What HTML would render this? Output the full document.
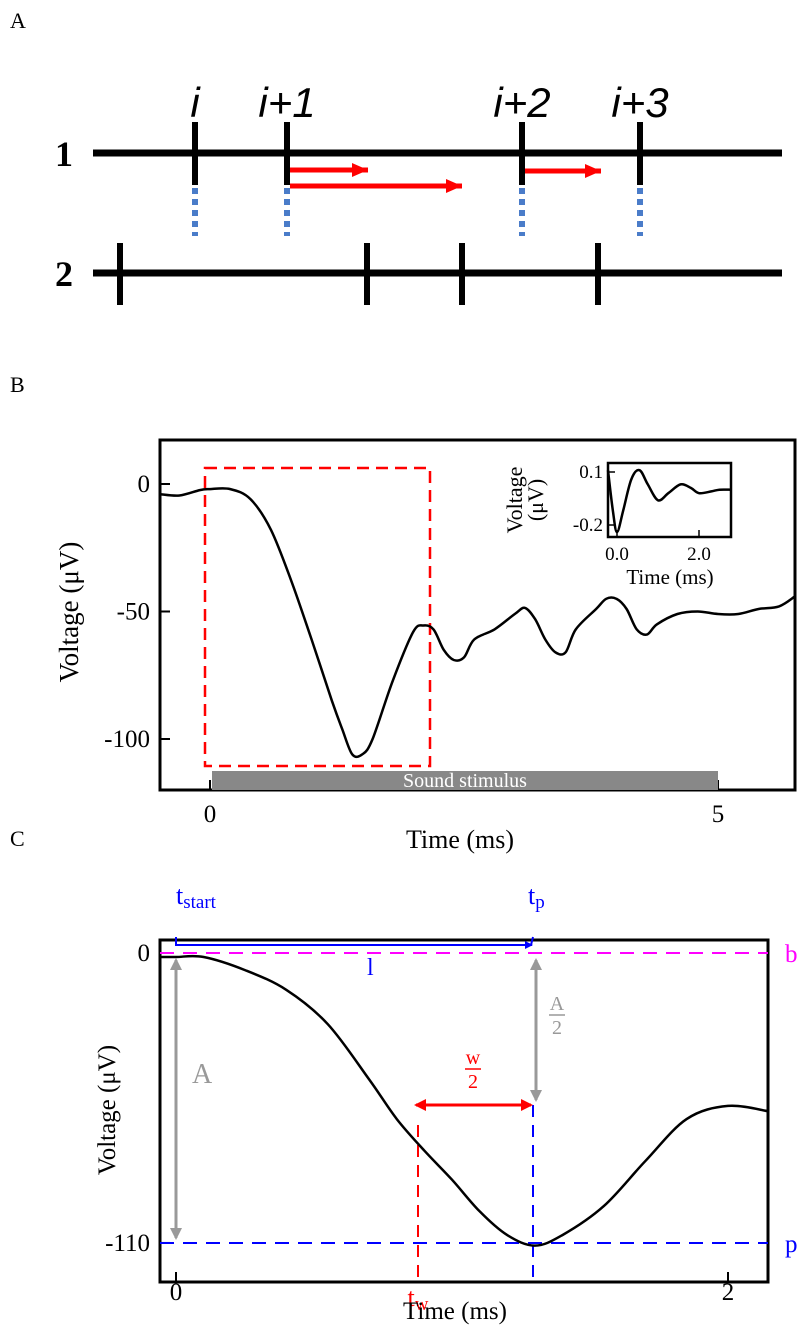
<!DOCTYPE html>
<html><head><meta charset="utf-8"><style>
body{margin:0;background:#fff}
svg text{font-family:"Liberation Serif",serif}
</style></head><body>
<svg width="800" height="1327" xmlns="http://www.w3.org/2000/svg">
<defs>
<marker id="ab" markerWidth="8" markerHeight="8" refX="7" refY="4" orient="auto" markerUnits="userSpaceOnUse"><path d="M0,0L8,4L0,8z" fill="blue"/></marker>
<marker id="ag" markerWidth="12" markerHeight="12" refX="10" refY="6" orient="auto-start-reverse" markerUnits="userSpaceOnUse"><path d="M0,0L12,6L0,12z" fill="#999"/></marker>
<marker id="ar2" markerWidth="12" markerHeight="12" refX="10" refY="6" orient="auto-start-reverse" markerUnits="userSpaceOnUse"><path d="M0,0L12,6L0,12z" fill="red"/></marker>
<marker id="ar3" markerWidth="16" markerHeight="14" refX="16" refY="7" orient="auto" markerUnits="userSpaceOnUse"><path d="M0,0L16,7L0,14z" fill="red"/></marker>
</defs>
<!-- Panel A -->
<g>
<text x="10" y="28" font-size="22">A</text>
<text x="55" y="166" font-size="36" font-weight="bold">1</text>
<text x="55" y="286" font-size="36" font-weight="bold">2</text>
<line x1="93" y1="153" x2="782" y2="153" stroke="#000" stroke-width="7"/>
<line x1="93" y1="273" x2="782" y2="273" stroke="#000" stroke-width="7"/>
<g id="spk"></g>
<g font-style="italic" font-size="42" text-anchor="middle">
<text x="195" y="117" style="font-family:'Liberation Sans',sans-serif">i</text>
<text x="287" y="117" style="font-family:'Liberation Sans',sans-serif">i+1</text>
<text x="522" y="117" style="font-family:'Liberation Sans',sans-serif">i+2</text>
<text x="640" y="117" style="font-family:'Liberation Sans',sans-serif">i+3</text>
</g>
<line x1="290" y1="170" x2="368" y2="170" stroke="red" stroke-width="5" marker-end="url(#ar3)"/>
<line x1="290" y1="186" x2="462" y2="186" stroke="red" stroke-width="5" marker-end="url(#ar3)"/>
<line x1="525" y1="171" x2="601" y2="171" stroke="red" stroke-width="5" marker-end="url(#ar3)"/>
</g>
<!-- Panel B -->
<g>
<text x="10" y="392" font-size="22">B</text>
<rect x="160" y="440" width="635" height="350" fill="none" stroke="#000" stroke-width="3"/>
<g id="bTicks"></g>
<rect x="205" y="468" width="225" height="298" fill="none" stroke="red" stroke-width="2.5" stroke-dasharray="12,7"/>
<rect x="212" y="771" width="506" height="19" fill="#888"/>
<text x="465" y="787" font-size="20" fill="#fff" text-anchor="middle">Sound stimulus</text>
<path id="bLine" fill="none" stroke="#000" stroke-width="2.5"/>
<text x="460" y="848" font-size="26" text-anchor="middle">Time (ms)</text>
<text transform="translate(78,612) rotate(-90)" font-size="27" text-anchor="middle">Voltage (μV)</text>
<rect x="608" y="463" width="123" height="74" fill="none" stroke="#000" stroke-width="2.5"/>
<g id="iTicks"></g>
<path id="iLine" fill="none" stroke="#000" stroke-width="2.5"/>
<text x="670" y="584" font-size="21" text-anchor="middle">Time (ms)</text>
<text transform="translate(522,500) rotate(-90)" font-size="22" text-anchor="middle">Voltage</text>
<text transform="translate(543,500) rotate(-90)" font-size="22" text-anchor="middle">(μV)</text>
</g>
<!-- Panel C -->
<g>
<text x="10" y="846" font-size="22">C</text>
<rect x="160" y="940" width="608" height="342" fill="none" stroke="#000" stroke-width="3"/>
<g id="cTicks"></g>
<line x1="160" y1="953" x2="768" y2="953" stroke="#f0f" stroke-width="2" stroke-dasharray="14,9"/>
<text x="785" y="962" font-size="25" fill="#f0f">b</text>
<line x1="160" y1="1243" x2="768" y2="1243" stroke="blue" stroke-width="2" stroke-dasharray="14,9"/>
<text x="785" y="1252" font-size="25" fill="blue">p</text>
<line x1="533" y1="1105" x2="533" y2="1282" stroke="blue" stroke-width="2" stroke-dasharray="12,8"/>
<line x1="418" y1="1125" x2="418" y2="1282" stroke="red" stroke-width="2" stroke-dasharray="12,8"/>
<polyline points="176,937 176,945 531,945 533,937" fill="none" stroke="blue" stroke-width="2"/>
<line x1="176" y1="945" x2="532" y2="945" stroke="blue" stroke-width="2" marker-end="url(#ab)"/>
<text x="176" y="904" font-size="26" fill="blue">t<tspan font-size="19" dy="4">start</tspan></text>
<text x="528" y="904" font-size="26" fill="blue">t<tspan font-size="19" dy="4">p</tspan></text>
<text x="367" y="975" font-size="24" fill="blue">l</text>
<line x1="176" y1="960" x2="176" y2="1238" stroke="#999" stroke-width="3" marker-start="url(#ag)" marker-end="url(#ag)"/>
<text x="192" y="1083" font-size="28" fill="#999">A</text>
<line x1="536" y1="960" x2="536" y2="1100" stroke="#999" stroke-width="3" marker-start="url(#ag)" marker-end="url(#ag)"/>
<g fill="#999" font-size="20" text-anchor="middle"><text x="557" y="1010">A</text><line x1="549" y1="1015" x2="565" y2="1015" stroke="#999" stroke-width="1.5"/><text x="557" y="1034">2</text></g>
<line x1="416" y1="1105" x2="531" y2="1105" stroke="red" stroke-width="3" marker-start="url(#ar2)" marker-end="url(#ar2)"/>
<g fill="red" font-size="20" text-anchor="middle"><text x="473" y="1064">w</text><line x1="465" y1="1069" x2="481" y2="1069" stroke="red" stroke-width="1.5"/><text x="473" y="1088">2</text></g>
<path id="cLine" fill="none" stroke="#000" stroke-width="2.5"/>
<text x="418" y="1306" font-size="26" fill="red" text-anchor="middle">t<tspan font-size="19" dy="4">w</tspan></text>
<text x="455" y="1319" font-size="25" text-anchor="middle">Time (ms)</text>
<text transform="translate(115,1110) rotate(-90)" font-size="25" text-anchor="middle">Voltage (μV)</text>
</g>
</svg>
<script>
const train1Spikes=[195,287,522,640];
const train2Spikes=[120,367,462,598];
const bTime=[-0.49,-0.3,-0.1,0,0.2,0.4,0.6,0.8,1.0,1.2,1.3,1.4,1.5,1.6,1.8,2.0,2.1,2.2,2.3,2.4,2.5,2.6,2.8,3.0,3.1,3.2,3.3,3.4,3.5,3.6,3.8,3.9,4.0,4.1,4.2,4.3,4.4,4.6,4.8,5.0,5.2,5.4,5.6,5.76];
const bVolt=[-4,-4.5,-2.4,-2,-2,-6,-18,-38,-61,-85,-96,-106,-106,-100,-77,-58,-55.5,-57,-65,-69,-68,-61,-57,-51,-48.6,-53,-61,-66,-66,-57,-49,-45,-45,-49,-57,-59,-55,-51,-50,-51,-51,-49,-48,-44];
const bXTicks=[0,5];
const bYTicks=[0,-50,-100];
const iTime=[-0.22,-0.1,0,0.15,0.35,0.55,0.75,1.0,1.25,1.55,1.8,2.0,2.3,2.5,2.78];
const iVolt=[0.11,-0.12,-0.24,-0.12,0.06,0.11,0.03,-0.06,-0.02,0.03,0.01,-0.02,-0.01,0.0,0.0];
const iXTicks=[0,2];
const iXLabels=["0.0","2.0"];
const iYTicks=[0.1,-0.2];
const cTime=[-0.058,0,0.1,0.25,0.4,0.55,0.7,0.8,0.9,1.0,1.1,1.2,1.3,1.4,1.55,1.7,1.85,2.0,2.145];
const cVolt=[-1.5,-1.5,-1.5,-6.5,-14,-27,-48,-63,-75,-86,-98,-107,-111,-107,-96,-79,-63,-58,-60];
const cXTicks=[0,2];
const cYTicks=[0,-110];

const NS="http://www.w3.org/2000/svg";
function mk(parent,tag,attrs,txt){const e=document.createElementNS(NS,tag);for(const k in attrs)e.setAttribute(k,attrs[k]);if(txt!=null)e.textContent=txt;document.querySelector(parent).appendChild(e);return e;}
const spk='#spk';
train1Spikes.forEach(x=>{
 const l=mk(spk,'line',{x1:x,y1:122,x2:x,y2:185,stroke:'#000','stroke-width':6});
 
 
 const d=mk(spk,'line',{x1:x,y1:188,x2:x,y2:236,stroke:'#4a7cc9','stroke-width':6,'stroke-dasharray':'6,5'});
 
 
});
train2Spikes.forEach(x=>{
 const l=mk(spk,'line',{x1:x,y1:243,x2:x,y2:305,stroke:'#000','stroke-width':6});
 
 
});
function line(id,xs,ys,fx,fy){
 const P=xs.map((t,i)=>[fx(t),fy(ys[i])]);
 let d='M'+P[0][0].toFixed(1)+','+P[0][1].toFixed(1);
 for(let i=0;i<P.length-1;i++){
  const p0=P[Math.max(i-1,0)],p1=P[i],p2=P[i+1],p3=P[Math.min(i+2,P.length-1)];
  const c1=[p1[0]+(p2[0]-p0[0])/6,p1[1]+(p2[1]-p0[1])/6];
  const c2=[p2[0]-(p3[0]-p1[0])/6,p2[1]-(p3[1]-p1[1])/6];
  d+='C'+c1.map(v=>v.toFixed(1)).join(',')+' '+c2.map(v=>v.toFixed(1)).join(',')+' '+p2[0].toFixed(1)+','+p2[1].toFixed(1);
 }
 document.getElementById(id).setAttribute('d',d);
}
const bx=t=>210+t*101.6, by=v=>484-v*2.55;
line('bLine',bTime,bVolt,bx,by);
bXTicks.forEach(t=>{const l=mk('#bTicks','line',{x1:bx(t),y1:790,x2:bx(t),y2:780,stroke:'#000','stroke-width':2});
 
 const tx=mk('#bTicks','text',{x:bx(t),y:822,'font-size':25,'text-anchor':'middle'},String(t));
 });
bYTicks.forEach(v=>{const l=mk('#bTicks','line',{x1:160,y1:by(v),x2:170,y2:by(v),stroke:'#000','stroke-width':2});
 
 const tx=mk('#bTicks','text',{x:150,y:by(v)+8,'font-size':25,'text-anchor':'end'},String(v));
 });
const ix=t=>617+t*41, iy=v=>472-(v-0.1)*176.7;
line('iLine',iTime,iVolt,ix,iy);
iXTicks.forEach((t,i)=>{const l=mk('#iTicks','line',{x1:ix(t),y1:537,x2:ix(t),y2:530,stroke:'#000','stroke-width':1.5});
 
 const tx=mk('#iTicks','text',{x:ix(t),y:560,'font-size':19,'text-anchor':'middle'},iXLabels[i]);
 });
iYTicks.forEach(v=>{const l=mk('#iTicks','line',{x1:608,y1:iy(v),x2:615,y2:iy(v),stroke:'#000','stroke-width':1.5});
 
 const tx=mk('#iTicks','text',{x:603,y:iy(v)+6,'font-size':19,'text-anchor':'end'},String(v));
 });
const cx=t=>176+t*276, cy=v=>953-v*2.636;
line('cLine',cTime,cVolt,cx,cy);
cXTicks.forEach(t=>{const l=mk('#cTicks','line',{x1:cx(t),y1:1282,x2:cx(t),y2:1272,stroke:'#000','stroke-width':2});
 
 const tx=mk('#cTicks','text',{x:cx(t),y:1300,'font-size':25,'text-anchor':'middle'},String(t));
 });
cYTicks.forEach(v=>{const l=mk('#cTicks','line',{x1:160,y1:cy(v),x2:170,y2:cy(v),stroke:'#000','stroke-width':2});
 
 const tx=mk('#cTicks','text',{x:150,y:cy(v)+8,'font-size':25,'text-anchor':'end'},String(v));
 });
</script>
</body></html>
